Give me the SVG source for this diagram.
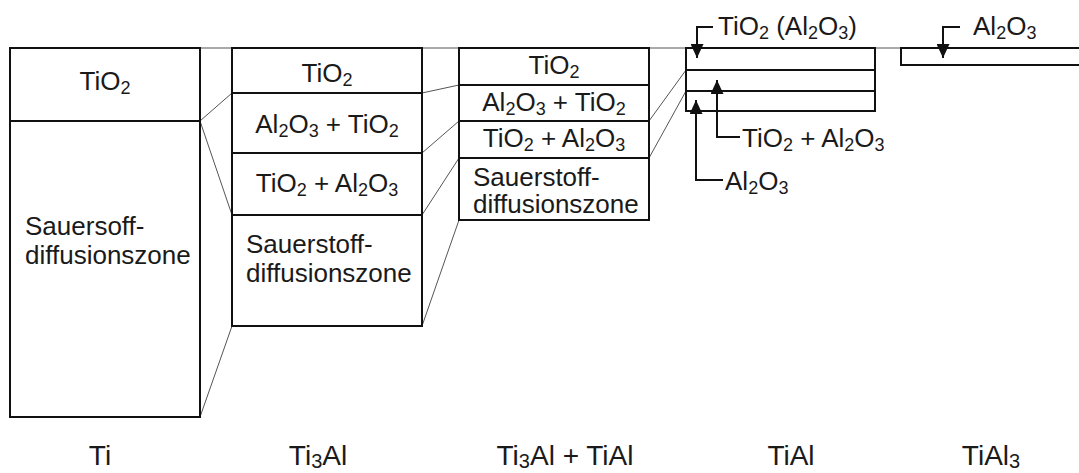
<svg xmlns="http://www.w3.org/2000/svg" width="1079" height="473" viewBox="0 0 1079 473">
<defs>
<style>
.box{fill:none;stroke:#111;stroke-width:2}
.thin{fill:none;stroke:#555;stroke-width:1}
.lead{fill:none;stroke:#111;stroke-width:2}
text{font-family:"Liberation Sans",Arial,sans-serif;font-size:26px;fill:#1a1a1a}
.c{text-anchor:middle}
.big{font-size:28px}
.s{font-size:18px}
.bs{font-size:20px}
</style>
<marker id="ah" markerUnits="userSpaceOnUse" markerWidth="15" markerHeight="13" refX="14" refY="6.5" orient="auto">
<path d="M0,0 L14,6.5 L0,13 z" fill="#111"/>
</marker>
</defs>
<rect width="1079" height="473" fill="#fff"/>
<g id="connectors">
<line class="thin" x1="10" y1="48" x2="1079" y2="48"/>
<line class="thin" x1="200" y1="121" x2="232" y2="93"/>
<line class="thin" x1="200" y1="121" x2="232" y2="215"/>
<line class="thin" x1="200" y1="417" x2="232" y2="326"/>
<line class="thin" x1="422" y1="93" x2="459" y2="85"/>
<line class="thin" x1="422" y1="153" x2="459" y2="121"/>
<line class="thin" x1="422" y1="215" x2="459" y2="158"/>
<line class="thin" x1="422" y1="326" x2="459" y2="220"/>
<line class="thin" x1="649" y1="121" x2="686" y2="70"/>
<line class="thin" x1="649" y1="158" x2="686" y2="91"/>
</g>
<g id="ti">
<rect class="box" x="10" y="48" width="190" height="369" fill="#fff"/>
<line class="box" x1="10" y1="121" x2="200" y2="121"/>
<text class="c" x="105" y="90">TiO<tspan class="s" dy="4">2</tspan></text>
<text x="25" y="235">Sauersoff-</text>
<text x="25" y="264">diffusionszone</text>
</g>
<g id="ti3al">
<rect class="box" x="232" y="48" width="190" height="278"/>
<line class="box" x1="232" y1="93" x2="422" y2="93"/>
<line class="box" x1="232" y1="153" x2="422" y2="153"/>
<line class="box" x1="232" y1="215" x2="422" y2="215"/>
<text class="c" x="327" y="82">TiO<tspan class="s" dy="4">2</tspan></text>
<text class="c" x="327" y="133">Al<tspan class="s" dy="4">2</tspan><tspan dy="-4">O</tspan><tspan class="s" dy="4">3</tspan><tspan dy="-4"> + TiO</tspan><tspan class="s" dy="4">2</tspan></text>
<text class="c" x="327" y="192">TiO<tspan class="s" dy="4">2</tspan><tspan dy="-4"> + Al</tspan><tspan class="s" dy="4">2</tspan><tspan dy="-4">O</tspan><tspan class="s" dy="4">3</tspan></text>
<text x="246" y="253">Sauerstoff-</text>
<text x="246" y="282">diffusionszone</text>
</g>
<g id="ti3al-tial">
<rect class="box" x="459" y="48" width="190" height="172"/>
<line class="box" x1="459" y1="85" x2="649" y2="85"/>
<line class="box" x1="459" y1="121" x2="649" y2="121"/>
<line class="box" x1="459" y1="158" x2="649" y2="158"/>
<text class="c" x="554" y="74">TiO<tspan class="s" dy="4">2</tspan></text>
<text class="c" x="554" y="111">Al<tspan class="s" dy="4">2</tspan><tspan dy="-4">O</tspan><tspan class="s" dy="4">3</tspan><tspan dy="-4"> + TiO</tspan><tspan class="s" dy="4">2</tspan></text>
<text class="c" x="554" y="147">TiO<tspan class="s" dy="4">2</tspan><tspan dy="-4"> + Al</tspan><tspan class="s" dy="4">2</tspan><tspan dy="-4">O</tspan><tspan class="s" dy="4">3</tspan></text>
<text x="473" y="186">Sauerstoff-</text>
<text x="473" y="213">diffusionszone</text>
</g>
<g id="tial">
<rect class="box" x="686" y="48" width="189" height="63"/>
<line class="box" x1="686" y1="70" x2="875" y2="70"/>
<line class="box" x1="686" y1="91" x2="875" y2="91"/>
<path class="lead" d="M713,27 H697 V58" marker-end="url(#ah)"/>
<path class="lead" d="M740,137 H717 V80" marker-end="url(#ah)"/>
<path class="lead" d="M723,180 H696 V100" marker-end="url(#ah)"/>
<text x="718" y="35">TiO<tspan class="s" dy="4">2</tspan><tspan dy="-4"> (Al</tspan><tspan class="s" dy="4">2</tspan><tspan dy="-4">O</tspan><tspan class="s" dy="4">3</tspan><tspan dy="-4">)</tspan></text>
<text x="742" y="147">TiO<tspan class="s" dy="4">2</tspan><tspan dy="-4"> + Al</tspan><tspan class="s" dy="4">2</tspan><tspan dy="-4">O</tspan><tspan class="s" dy="4">3</tspan></text>
<text x="725" y="190">Al<tspan class="s" dy="4">2</tspan><tspan dy="-4">O</tspan><tspan class="s" dy="4">3</tspan></text>
</g>
<g id="tial3">
<rect class="box" x="901" y="48" width="190" height="17"/>
<path class="lead" d="M960,27 H943 V58" marker-end="url(#ah)"/>
<text x="973" y="35">Al<tspan class="s" dy="4">2</tspan><tspan dy="-4">O</tspan><tspan class="s" dy="4">3</tspan></text>
</g>
<g id="labels">
<text class="c big" x="100" y="465">Ti</text>
<text class="c big" x="318" y="465">Ti<tspan class="bs" dy="3">3</tspan><tspan dy="-3">Al</tspan></text>
<text class="c big" x="565" y="465">Ti<tspan class="bs" dy="3">3</tspan><tspan dy="-3">Al + TiAl</tspan></text>
<text class="c big" x="791" y="465">TiAl</text>
<text class="c big" x="991" y="465">TiAl<tspan class="bs" dy="3">3</tspan></text>
</g>
</svg>
